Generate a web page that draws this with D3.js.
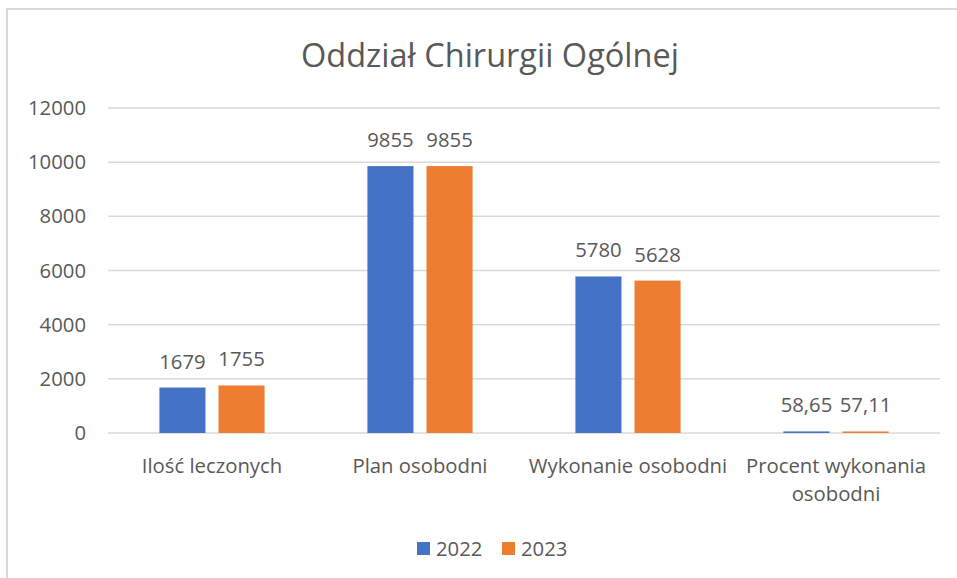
<!DOCTYPE html>
<html>
<head>
<meta charset="utf-8">
<script src="https://cdn.jsdelivr.net/npm/d3@7"></script>
<style>
  body { margin: 0; background: #fff; }
  text { font-family: "Open Sans", "Noto Sans", sans-serif; fill: #595959; }
</style>
</head>
<body>
<div id="chart"></div>
<script>
// data
var categories = ["Ilość leczonych", "Plan osobodni", "Wykonanie osobodni", "Procent wykonania osobodni"];
var seriesNames = ["2022", "2023"];
var values2022 = [1679, 9855, 5780, 58.65];
var values2023 = [1755, 9855, 5628, 57.11];
var yTicks = [0, 2000, 4000, 6000, 8000, 10000, 12000];
var colors = ["#4472C4", "#ED7D31"];

var width = 957, height = 578;
var margin = {top: 108, right: 17, bottom: 145, left: 108};
var fs = "20.3px";

var svg = d3.select("#chart").append("svg")
    .attr("width", width)
    .attr("height", height);

// chart frame (only top and left edges show in the crop)
svg.append("line").attr("x1", 6).attr("x2", width).attr("y1", 9).attr("y2", 9)
    .style("stroke", "#d9d9d9").style("stroke-width", 2);
svg.append("line").attr("x1", 7).attr("x2", 7).attr("y1", 9).attr("y2", height)
    .style("stroke", "#d9d9d9").style("stroke-width", 2);

svg.append("text")
    .attr("x", 490).attr("y", 67)
    .attr("text-anchor", "middle")
    .style("font-size", "32.5px")
    .text("Oddział Chirurgii Ogólnej");

var x = d3.scaleBand()
    .domain(categories)
    .range([margin.left, width - margin.right]);

var x1 = d3.scaleBand()
    .domain(seriesNames)
    .range([0, x.bandwidth()])
    .paddingInner(0.22)
    .paddingOuter(0.87);

var y = d3.scaleLinear()
    .domain([0, 12000])
    .range([height - margin.bottom, margin.top]);

// gridlines
svg.append("g").selectAll("line")
    .data(yTicks)
    .enter().append("line")
    .attr("x1", margin.left).attr("x2", width - margin.right)
    .attr("y1", function (d) { return y(d); })
    .attr("y2", function (d) { return y(d); })
    .style("stroke", "#d9d9d9").style("stroke-width", 1.5);

var yAxis = d3.axisLeft(y).tickValues(yTicks).tickFormat(d3.format("d")).tickSize(0).tickPadding(22);
var gy = svg.append("g").attr("transform", "translate(" + margin.left + ",0)").call(yAxis);
gy.select(".domain").remove();
gy.selectAll("text").style("font-size", fs).style("fill", "#595959")
    .style("font-family", "'Open Sans', sans-serif");

var rows = categories.map(function (c, i) {
    return {cat: c, vals: [values2022[i], values2023[i]]};
});

function fmt(v) {
    return String(v).replace(".", ",");
}

var groups = svg.append("g").selectAll("g")
    .data(rows)
    .enter().append("g")
    .attr("transform", function (d) { return "translate(" + x(d.cat) + ",0)"; });

groups.selectAll("rect")
    .data(function (d) { return d.vals.map(function (v, j) { return {k: seriesNames[j], v: v, j: j}; }); })
    .enter().append("rect")
    .attr("x", function (d) { return x1(d.k); })
    .attr("width", x1.bandwidth())
    .attr("y", function (d) { return y(d.v); })
    .attr("height", function (d) { return y(0) - y(d.v); })
    .style("fill", function (d) { return colors[d.j]; });

groups.selectAll("text.lbl")
    .data(function (d) { return d.vals.map(function (v, j) { return {k: seriesNames[j], v: v, j: j}; }); })
    .enter().append("text")
    .attr("class", "lbl")
    .attr("x", function (d) { return x1(d.k) + x1.bandwidth() / 2; })
    .attr("y", function (d) { return y(d.v) - 19; })
    .attr("text-anchor", "middle")
    .style("font-size", fs)
    .text(function (d) { return fmt(d.v); });

// category labels (wrapped like the original)
var catLines = {
    "Procent wykonania osobodni": ["Procent wykonania", "osobodni"]
};
var cl = svg.append("g").selectAll("text")
    .data(categories)
    .enter().append("text")
    .attr("x", function (d) { return x(d) + x.bandwidth() / 2; })
    .attr("y", 473)
    .attr("text-anchor", "middle")
    .style("font-size", fs);
cl.each(function (d) {
    var lines = catLines[d] || [d];
    var t = d3.select(this);
    lines.forEach(function (ln, i) {
        t.append("tspan")
            .attr("x", x(d) + x.bandwidth() / 2)
            .attr("dy", i === 0 ? 0 : 28)
            .text(ln);
    });
});

// legend
var legend = svg.append("g").attr("transform", "translate(417,548)");
seriesNames.forEach(function (s, i) {
    var g = legend.append("g").attr("transform", "translate(" + (i * 85) + ",0)");
    g.append("rect").attr("x", 0).attr("y", -6).attr("width", 13).attr("height", 13)
        .style("fill", colors[i]);
    g.append("text").attr("x", 19).attr("y", 8).style("font-size", fs).text(s);
});
</script>
</body>
</html>
